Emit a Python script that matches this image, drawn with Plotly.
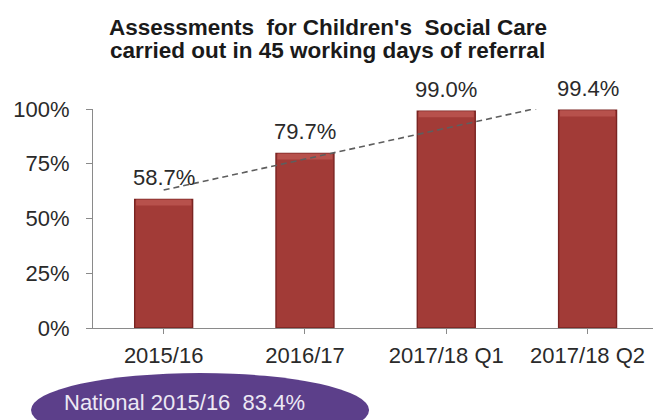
import numpy as np
import plotly.graph_objects as go

# Chart data
categories = ["2015/16", "2016/17", "2017/18 Q1", "2017/18 Q2"]
values = [58.7, 79.7, 99.0, 99.4]
y_tick_values = [0, 25, 50, 75, 100]
y_tick_labels = ["0%", "25%", "50%", "75%", "100%"]
national_label = "National 2015/16  83.4%"
title_lines = [
    "Assessments  for Children's  Social Care",
    "carried out in 45 working days of referral",
]

FONT = "Liberation Sans, Arial, sans-serif"
BAR_COLOR = "#a23b37"
BAR_EDGE = "#7a2422"
BEVEL_COLOR = "#b7514c"
AXIS_COLOR = "#8a8a8a"
TEXT_COLOR = "#2a2a2a"
BAR_WIDTH = 0.41
BEVEL_DEPTH = 2.8  # percentage points of the bevelled cap

# Linear trend across the four periods
idx = np.arange(len(values))
slope, intercept = np.polyfit(idx, values, 1)
trend_x = np.array([0.0, 3.5])
trend_y = intercept + slope * trend_x

fig = go.Figure()

fig.add_trace(go.Bar(
    x=idx,
    y=values,
    width=BAR_WIDTH,
    marker=dict(color=BAR_COLOR, line=dict(color=BAR_EDGE, width=1.4)),
    hoverinfo="skip",
    showlegend=False,
))

# Lighter bevelled cap along the top of each bar
fig.add_trace(go.Bar(
    x=idx,
    y=[BEVEL_DEPTH] * len(values),
    base=[v - BEVEL_DEPTH for v in values],
    width=BAR_WIDTH - 0.02,
    marker=dict(color=BEVEL_COLOR, line=dict(width=0)),
    hoverinfo="skip",
    showlegend=False,
))

fig.add_trace(go.Scatter(
    x=trend_x,
    y=trend_y,
    mode="lines",
    line=dict(color="#5e5e5e", width=1.6, dash="6px,4px"),
    hoverinfo="skip",
    showlegend=False,
))

# Value labels above each bar
for i, v in enumerate(values):
    fig.add_annotation(
        x=i, y=v, xref="x", yref="y",
        text=f"{v:.1f}%",
        showarrow=False,
        xanchor="center",
        yanchor="bottom",
        yshift=7,
        font=dict(family=FONT, size=22, color=TEXT_COLOR),
    )

# Two-line bold title
for line, ypos in zip(title_lines, [1.374, 1.265]):
    fig.add_annotation(
        x=0.419, y=ypos, xref="paper", yref="paper",
        text="<b>" + line.replace("  ", "&nbsp; ") + "</b>",
        showarrow=False,
        xanchor="center",
        yanchor="middle",
        font=dict(family=FONT, size=22.5, color="#1a1a1a"),
    )

# National comparison badge
fig.add_shape(
    type="circle", xref="paper", yref="paper",
    x0=-0.1107, x1=0.493, y0=-0.543, y1=-0.2055,
    fillcolor="#5c3f8a", line=dict(width=0),
    layer="above",
)
fig.add_annotation(
    x=0.164, y=-0.338, xref="paper", yref="paper",
    text=national_label.replace("  ", "&nbsp; "),
    showarrow=False,
    xanchor="center",
    yanchor="middle",
    font=dict(family=FONT, size=22, color="#ece8f4"),
)

fig.update_layout(
    width=653,
    height=420,
    margin=dict(l=93, r=0, t=109, b=92),
    paper_bgcolor="white",
    plot_bgcolor="white",
    barmode="overlay",
    xaxis=dict(
        range=[-0.5, 3.463],
        tickmode="array",
        tickvals=list(idx),
        ticktext=categories,
        tickson="boundaries",
        ticks="outside",
        ticklen=5,
        tickcolor=AXIS_COLOR,
        showline=True,
        linecolor=AXIS_COLOR,
        linewidth=1,
        showgrid=False,
        zeroline=False,
        ticklabelstandoff=3,
        tickfont=dict(family=FONT, size=22, color=TEXT_COLOR),
    ),
    yaxis=dict(
        range=[0, 100],
        tickmode="array",
        tickvals=y_tick_values,
        ticktext=y_tick_labels,
        ticks="outside",
        ticklen=6,
        tickcolor=AXIS_COLOR,
        showline=True,
        linecolor=AXIS_COLOR,
        linewidth=1,
        showgrid=False,
        zeroline=False,
        ticklabelstandoff=12,
        tickfont=dict(family=FONT, size=22, color=TEXT_COLOR),
    ),
)

fig.write_html("out.html")
